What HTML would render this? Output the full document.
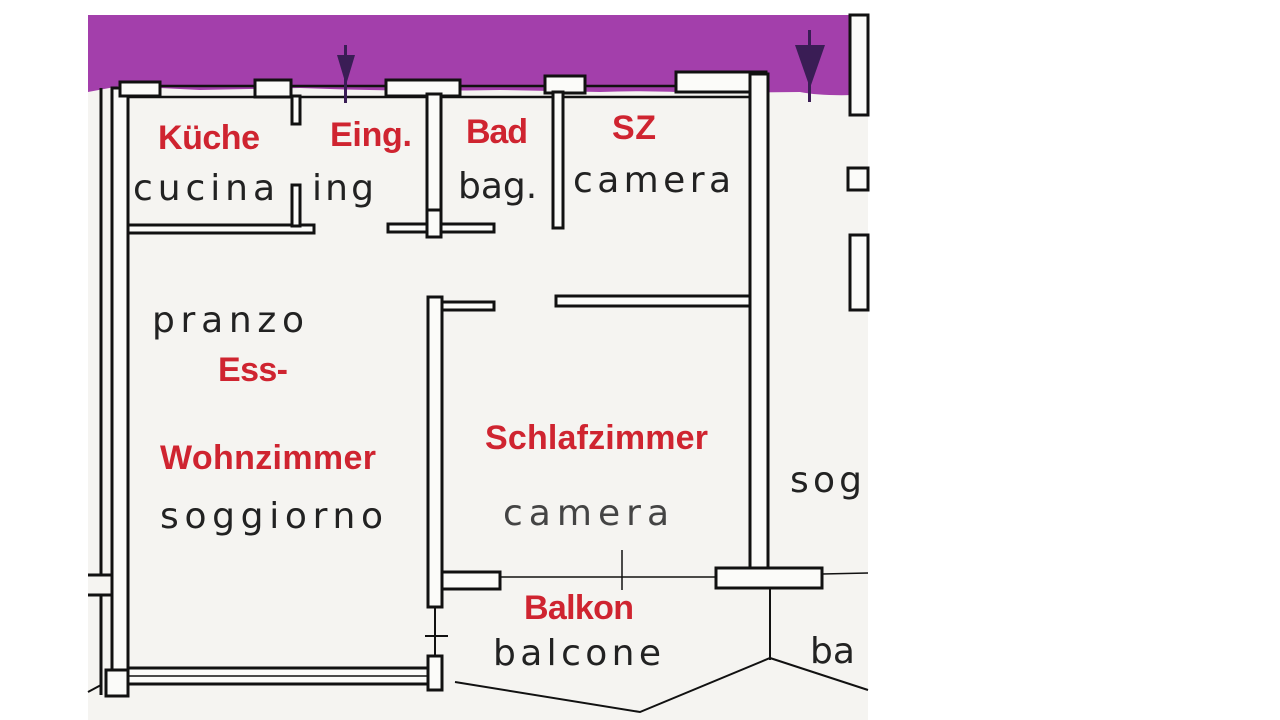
<!DOCTYPE html>
<html><head><meta charset="utf-8"><style>
html,body{margin:0;padding:0;background:#fff;width:1280px;height:720px;overflow:hidden}
svg{display:block}
.r{font-family:"Liberation Sans",sans-serif;font-weight:bold;font-size:34px;fill:#cf2430}
.b{font-family:"DejaVu Sans","Liberation Sans",sans-serif;font-size:36px;fill:#222}
</style></head><body>
<svg width="1280" height="720" viewBox="0 0 1280 720">
<rect x="88" y="15" width="780" height="705" fill="#f5f4f1"/>
<path d="M88 15 H855 V95 Q820 96 800 92 L700 93 Q650 90 600 92 L500 90 Q400 92 300 88 L200 90 L120 86 L88 92 Z" fill="#a33fab"/>
<g stroke="#111" fill="#fbfbf9" stroke-width="3">
<line x1="101" y1="88" x2="101" y2="575"/>
<line x1="101" y1="595" x2="101" y2="695"/>
<rect x="112" y="88" width="16" height="608"/>
<line x1="88" y1="575" x2="112" y2="575"/>
<line x1="88" y1="595" x2="112" y2="595"/>
<line x1="125" y1="86" x2="765" y2="86" stroke-width="2.5"/>
<line x1="128" y1="97" x2="750" y2="97" stroke-width="2.5"/>
<rect x="120" y="82" width="40" height="14"/>
<rect x="255" y="80" width="36" height="17"/>
<rect x="292" y="96" width="8" height="28"/>
<rect x="386" y="80" width="74" height="16"/>
<rect x="545" y="76" width="40" height="17"/>
<rect x="676" y="72" width="90" height="20"/>
<rect x="750" y="74" width="18" height="500"/>
<rect x="427" y="94" width="14" height="143"/>
<rect x="128" y="225" width="186" height="8"/>
<rect x="292" y="185" width="8" height="41"/>
<rect x="388" y="224" width="106" height="8"/>
<rect x="427" y="210" width="14" height="27"/>
<rect x="553" y="92" width="10" height="136"/>
<rect x="428" y="297" width="14" height="310"/>
<rect x="442" y="302" width="52" height="8"/>
<rect x="556" y="296" width="194" height="10"/>
<rect x="442" y="572" width="58" height="17"/>
<rect x="716" y="568" width="106" height="20"/>
<line x1="500" y1="577" x2="716" y2="577" stroke-width="1.5"/>
<line x1="822" y1="574" x2="868" y2="573" stroke-width="1.5"/>
<line x1="622" y1="550" x2="622" y2="590" stroke-width="1.5"/>
<line x1="435" y1="607" x2="435" y2="660" stroke-width="2"/>
<line x1="425" y1="636" x2="448" y2="636" stroke-width="2"/>
<rect x="128" y="668" width="310" height="16"/>
<line x1="128" y1="676" x2="438" y2="676" stroke-width="1.5"/>
<rect x="428" y="656" width="14" height="34"/>
<rect x="106" y="670" width="22" height="26"/>
<polyline points="455,682 640,712 770,658 868,690" fill="none" stroke-width="2"/>
<line x1="770" y1="588" x2="770" y2="660" stroke-width="2"/>
<line x1="88" y1="692" x2="101" y2="685" stroke-width="2"/>
<rect x="850" y="15" width="18" height="100"/>
<rect x="850" y="235" width="18" height="75"/>
<rect x="848" y="168" width="20" height="22"/>
</g>
<g fill="#3a1d55">
<rect x="344" y="45" width="3" height="58"/>
<path d="M337 55 L355 55 L346 85 Z"/>
<rect x="808" y="30" width="3" height="72"/>
<path d="M795 45 L825 45 L810 88 Z"/>
</g>
<g class="b">
<text x="133" y="200" textLength="142" lengthAdjust="spacing">cucina</text>
<text x="312" y="200" textLength="62" lengthAdjust="spacing">ing</text>
<text x="458" y="198">bag.</text>
<text x="573" y="192" textLength="158" lengthAdjust="spacing">camera</text>
<text x="152" y="332" textLength="152" lengthAdjust="spacing">pranzo</text>
<text x="160" y="528" textLength="223" lengthAdjust="spacing">soggiorno</text>
<text x="503" y="525" fill="#444" textLength="166" lengthAdjust="spacing">camera</text>
<text x="493" y="665" textLength="168" lengthAdjust="spacing">balcone</text>
<text x="790" y="492" textLength="72" lengthAdjust="spacing">sog</text>
<text x="810" y="663">ba</text>
</g>
<g class="r">
<text x="158" y="149" textLength="102">Küche</text>
<text x="330" y="146" textLength="82">Eing.</text>
<text x="466" y="143" textLength="62">Bad</text>
<text x="612" y="139" textLength="44">SZ</text>
<text x="218" y="381" textLength="70">Ess-</text>
<text x="160" y="469" textLength="216">Wohnzimmer</text>
<text x="485" y="449" textLength="223">Schlafzimmer</text>
<text x="524" y="619" textLength="110">Balkon</text>
</g>
</svg>
</body></html>
